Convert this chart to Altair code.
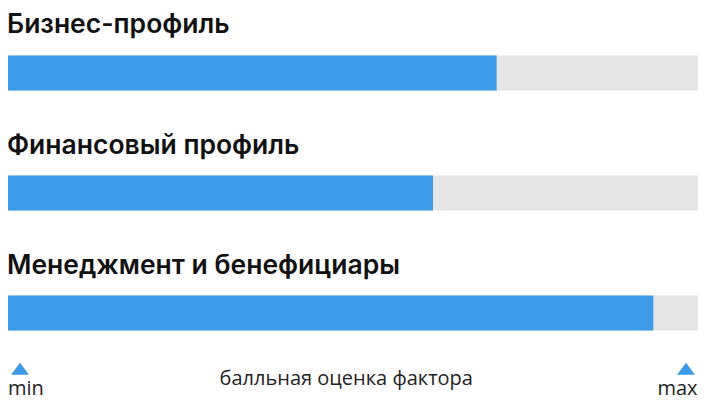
import altair as alt
import pandas as pd

categories = ["Бизнес-профиль", "Финансовый профиль", "Менеджмент и бенефициары"]
scores = [0.705, 0.614, 0.929]
max_scores = [1.0, 1.0, 1.0]

scale_labels = ["min", "max"]
scale_positions = [0.0, 1.0]
axis_title = "балльная оценка фактора"

BLUE = "#3d9ae8"
GRAY = "#e5e5e5"

df = pd.DataFrame({"cat": categories, "score": scores, "maxv": max_scores})
ends = pd.DataFrame({"label": scale_labels, "pos": scale_positions})

xs = alt.Scale(domain=[0, 1], range=[-4.5, 695], nice=False, zero=True)
ys = alt.Scale(domain=categories, paddingInner=0.70833, paddingOuter=0.39583)

base = alt.Chart(df)
y_enc = alt.Y("cat:N", sort=categories, scale=ys, axis=None)

bg = base.mark_bar(color=GRAY).encode(
    x=alt.X("maxv:Q", scale=xs, axis=None), y=y_enc
)
fg = base.mark_bar(color=BLUE).encode(
    x=alt.X("score:Q", scale=xs, axis=None), y=y_enc
)
titles = base.mark_text(
    align="left", baseline="alphabetic", dy=-39.5, dx=3.5,
    font="Inter", fontSize=26.5, fontWeight=600, color="#111111"
).encode(x=alt.datum(0), y=y_enc, text="cat:N")

tri_path = "M-1,0.667L1,0.667L0,-0.667Z"
ends_base = alt.Chart(ends)
tri_min = ends_base.transform_filter(alt.datum.label == "min").mark_point(
    shape=tri_path, filled=True, color=BLUE, size=324, opacity=1, xOffset=16.5
).encode(x=alt.X("pos:Q", scale=xs), y=alt.value(360.8))
tri_max = ends_base.transform_filter(alt.datum.label == "max").mark_point(
    shape=tri_path, filled=True, color=BLUE, size=324, opacity=1, xOffset=-17
).encode(x=alt.X("pos:Q", scale=xs), y=alt.value(360.8))
lab_min = ends_base.transform_filter(alt.datum.label == "min").mark_text(
    align="left", baseline="alphabetic", dx=4.5,
    font="Open Sans", fontSize=20, color="#222222"
).encode(x=alt.X("pos:Q", scale=xs), y=alt.value(387), text="label:N")
lab_max = ends_base.transform_filter(alt.datum.label == "max").mark_text(
    align="right", baseline="alphabetic", dx=-5.5,
    font="Open Sans", fontSize=20, color="#222222"
).encode(x=alt.X("pos:Q", scale=xs), y=alt.value(387), text="label:N")
mid = alt.Chart(pd.DataFrame({"t": [axis_title], "p": [0.5]})).mark_text(
    align="center", baseline="alphabetic", dx=-7,
    font="Open Sans", fontSize=20, color="#222222"
).encode(x=alt.X("p:Q", scale=xs), y=alt.value(377), text="t:N")

chart = alt.layer(bg, fg, titles, tri_min, tri_max, lab_min, lab_max, mid).properties(
    width=690, height=370,
    autosize=alt.AutoSizeParams(type="none"),
    padding={"left": 0, "top": 0, "right": 0, "bottom": 22},
).configure_view(stroke=None)

chart.save("out.html", embed_options={"renderer": "svg", "actions": False})
